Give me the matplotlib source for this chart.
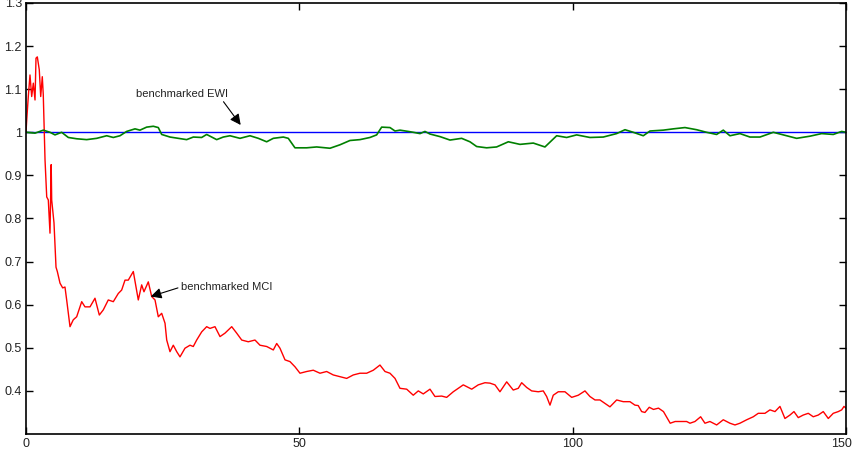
import matplotlib
matplotlib.use("Agg")
import matplotlib.pyplot as plt
import matplotlib.transforms as mtransforms

plt.rcParams['font.family'] = ['Liberation Sans', 'DejaVu Sans']

# benchmarked MCI (red)
mci_t = [0.0, 0.13, 0.42, 0.73, 1.04, 1.34, 1.65, 1.83, 2.07, 2.43, 2.69, 2.98, 3.16, 3.48, 3.79,
         4.08, 4.39, 4.61, 4.70, 5.12, 5.49, 5.73, 6.22, 6.71, 7.13, 7.44, 8.05, 8.65, 9.27,
         10.19, 10.79, 11.71, 12.62, 13.41, 14.14, 15.05, 15.97, 16.88, 17.50, 18.11, 18.71,
         19.63, 20.12, 20.54, 21.16, 21.58, 22.37, 22.99, 23.60, 24.20, 24.82, 25.43, 25.74,
         26.34, 26.94, 27.57, 28.17, 29.08, 30.00, 30.60, 31.22, 32.14, 33.05, 33.66, 34.57,
         35.49, 36.40, 37.63, 38.54, 39.46, 40.66, 41.89, 42.80, 44.03, 45.24, 45.86, 46.46,
         47.38, 48.29, 49.20, 50.12, 51.34, 52.55, 53.78, 55.00, 56.21, 57.44, 58.66, 59.87,
         61.09, 62.32, 63.53, 64.75, 65.67, 66.58, 67.50, 68.41, 69.64, 70.84, 71.76, 72.67,
         73.90, 74.81, 76.04, 76.95, 78.16, 79.08, 79.99, 80.91, 81.53, 82.73, 83.96, 84.87,
         85.79, 86.70, 87.93, 89.13, 90.05, 90.67, 91.59, 92.50, 93.71, 94.62, 95.24, 95.85,
         96.45, 97.37, 98.59, 99.82, 101.03, 102.25, 103.16, 104.08, 104.99, 105.91, 106.82,
         108.05, 109.25, 110.48, 111.39, 111.99, 112.62, 113.22, 114.01, 114.78, 115.70,
         116.61, 117.84, 118.75, 119.98, 120.85, 121.46, 122.37, 123.41, 124.20, 125.11,
         126.34, 127.55, 128.77, 129.69, 130.60, 131.83, 133.04, 133.95, 135.18, 136.09,
         137.01, 137.92, 138.83, 139.75, 140.48, 141.27, 142.18, 143.10, 144.01, 144.93,
         145.84, 146.76, 147.67, 148.59, 149.21, 149.63, 150.0]
mci_v = [1.000, 1.028, 1.083, 1.133, 1.083, 1.114, 1.075, 1.172, 1.175, 1.145, 1.083, 1.129, 1.087, 0.936, 0.850,
         0.843, 0.766, 0.925, 0.843, 0.790, 0.687, 0.677, 0.650, 0.639, 0.641, 0.611, 0.549, 0.565, 0.572,
         0.607, 0.595, 0.595, 0.615, 0.576, 0.588, 0.611, 0.607, 0.626, 0.634, 0.657, 0.657,
         0.677, 0.642, 0.611, 0.646, 0.630, 0.653, 0.619, 0.611, 0.572, 0.580, 0.557, 0.518,
         0.491, 0.506, 0.491, 0.479, 0.499, 0.506, 0.503, 0.518, 0.537, 0.549, 0.545, 0.549,
         0.526, 0.534, 0.549, 0.534, 0.518, 0.514, 0.518, 0.506, 0.503, 0.495, 0.510, 0.499,
         0.472, 0.468, 0.456, 0.441, 0.445, 0.448, 0.441, 0.445, 0.437, 0.433, 0.429, 0.437,
         0.441, 0.441, 0.448, 0.460, 0.445, 0.441, 0.429, 0.406, 0.404, 0.390, 0.400, 0.393,
         0.404, 0.387, 0.388, 0.385, 0.398, 0.406, 0.414, 0.408, 0.404, 0.414, 0.419, 0.418,
         0.414, 0.398, 0.421, 0.402, 0.406, 0.419, 0.408, 0.400, 0.398, 0.400, 0.387, 0.367,
         0.390, 0.398, 0.398, 0.385, 0.390, 0.400, 0.387, 0.379, 0.379, 0.371, 0.363,
         0.379, 0.375, 0.375, 0.367, 0.366, 0.352, 0.350, 0.362, 0.357, 0.360,
         0.352, 0.325, 0.329, 0.329, 0.329, 0.325, 0.329, 0.340, 0.325, 0.329,
         0.321, 0.333, 0.325, 0.321, 0.325, 0.333, 0.340, 0.348, 0.348, 0.356,
         0.352, 0.364, 0.336, 0.344, 0.352, 0.338, 0.344, 0.348, 0.340, 0.344,
         0.352, 0.336, 0.348, 0.352, 0.356, 0.364, 0.360]

# benchmarked EWI (green)
ewi_t = [0.0, 0.12, 1.65, 3.17, 4.39, 5.30, 6.52, 7.74, 9.27, 11.10, 12.93, 14.76, 15.97, 17.19,
         18.41, 19.94, 20.85, 22.07, 23.29, 24.20, 24.82, 26.34, 27.86, 29.39, 30.61, 32.13,
         33.05, 34.88, 36.09, 37.31, 39.14, 40.97, 42.50, 44.02, 45.24, 47.07, 47.98, 49.20,
         51.34, 53.17, 55.61, 57.43, 59.26, 61.09, 62.92, 64.14, 65.06, 66.58, 67.50, 68.41,
         69.93, 70.85, 72.07, 72.98, 73.90, 75.73, 77.56, 79.69, 81.21, 82.44, 84.26, 86.09,
         88.23, 90.36, 92.80, 94.93, 97.07, 98.90, 100.73, 103.16, 105.60, 108.04, 109.57,
         111.09, 112.92, 114.14, 116.58, 118.41, 120.54, 122.67, 124.50, 126.33, 127.55,
         128.77, 130.60, 132.43, 134.26, 136.70, 138.53, 140.97, 143.41, 145.54, 147.67,
         149.21, 150.0]
ewi_v = [1.000, 1.000, 0.998, 1.005, 1.000, 0.994, 1.000, 0.988, 0.985, 0.983, 0.986, 0.992, 0.988, 0.992,
         1.002, 1.008, 1.005, 1.012, 1.014, 1.011, 0.995, 0.989, 0.986, 0.983, 0.989, 0.988,
         0.995, 0.983, 0.989, 0.992, 0.986, 0.992, 0.986, 0.978, 0.986, 0.989, 0.986, 0.964,
         0.964, 0.966, 0.963, 0.971, 0.981, 0.983, 0.988, 0.994, 1.012, 1.011, 1.003, 1.005,
         1.002, 1.000, 0.997, 1.002, 0.996, 0.990, 0.982, 0.986, 0.978, 0.967, 0.964, 0.966,
         0.978, 0.972, 0.975, 0.966, 0.992, 0.988, 0.994, 0.988, 0.989, 0.997, 1.006,
         1.000, 0.992, 1.003, 1.005, 1.008, 1.011, 1.006, 1.000, 0.995, 1.005,
         0.992, 0.997, 0.989, 0.989, 1.000, 0.994, 0.986, 0.991, 0.997, 0.995,
         1.002, 1.000]

# benchmark level (blue)
bench_t = [0, 150]
bench_v = [1.0, 1.0]

xticks = [0, 50, 100, 150]
yticks = [0.4, 0.5, 0.6, 0.7, 0.8, 0.9, 1.0, 1.1, 1.2, 1.3]
ytick_labels = ['0.4', '0.5', '0.6', '0.7', '0.8', '0.9', '1', '1.1', '1.2', '1.3']

fig = plt.figure(figsize=(8.54, 4.55), dpi=100)
ax = fig.add_axes([26 / 854, 21 / 455, 820 / 854, 431 / 455])

ax.plot(bench_t, bench_v, color='#0000ff', lw=1.0)
ax.plot(mci_t, mci_v, color='#ff0000', lw=1.0)
ax.plot(ewi_t, ewi_v, color='#008000', lw=1.2)

ax.annotate('benchmarked EWI', xy=(39.27, 1.017), xytext=(20.1, 1.089),
            fontsize=8, va='center', ha='left', color='#222222',
            arrowprops=dict(arrowstyle='-|>', color='k', lw=0.8,
                            mutation_scale=16, shrinkA=0, shrinkB=0,
                            relpos=(0.93, 0.0)))
ax.annotate('benchmarked MCI', xy=(22.81, 0.619), xytext=(28.3, 0.641),
            fontsize=8, va='center', ha='left', color='#222222',
            arrowprops=dict(arrowstyle='-|>', color='k', lw=0.8,
                            mutation_scale=16, shrinkA=0, shrinkB=0,
                            relpos=(0.0, 0.5)))

ax.set_xlim(0, 150)
ax.set_ylim(0.3, 1.3)
ax.set_xticks(xticks)
ax.set_xticklabels([str(x) for x in xticks])
ax.set_yticks(yticks)
ax.set_yticklabels(ytick_labels)
ax.tick_params(direction='in', length=5, width=1.0, labelsize=9,
               top=True, right=True, labelcolor='#222222', pad=3)
for s in ax.spines.values():
    s.set_linewidth(1.2)

# keep the last x label inside the canvas
last = ax.get_xticklabels()[-1]
last.set_transform(last.get_transform() +
                   mtransforms.ScaledTranslation(-4 / 100, 0, fig.dpi_scale_trans))

fig.savefig('out.png', dpi=100)
